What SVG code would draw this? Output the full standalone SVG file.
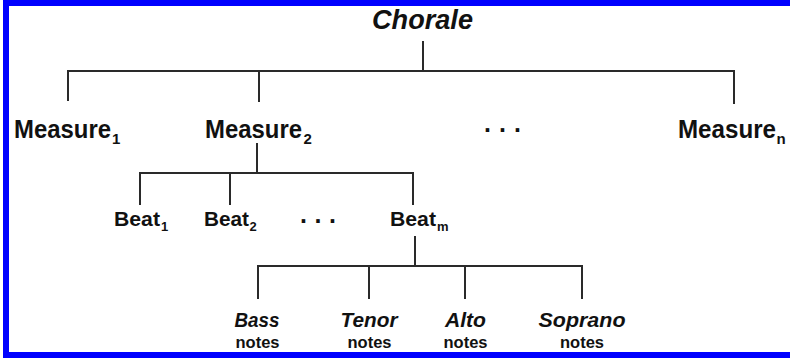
<svg xmlns="http://www.w3.org/2000/svg" width="790" height="358" viewBox="0 0 790 358">
<style>
.bg{fill:#ffffff}
.frame{fill:none;stroke:#0000ff;stroke-width:6}
.ln{stroke:#2a2a2a;stroke-width:2;fill:none;stroke-linecap:square}
.t{font-family:"Liberation Sans",Arial,sans-serif;font-weight:bold;fill:#111}
.it{font-style:italic}
.m{font-size:25px}
.b{font-size:20px}
.v{font-size:19.5px}
.n{font-size:17px}
.s1{font-size:15px}
.s2{font-size:13px}
</style>
<rect class="bg" x="0" y="0" width="790" height="358"/>
<rect class="frame" x="6" y="3" width="820" height="352"/>
<g id="connectors">
<path class="ln" d="M423,42 V71 M68,71 H734 M68,71 V100 M259,71 V101 M734,71 V103"/>
<path class="ln" d="M257,144 V173 M140,173 H413 M140,173 V204 M230,173 V204 M413,173 V204"/>
<path class="ln" d="M415,237 V266 M258,266 H582 M258,266 V298 M369,266 V298 M465,266 V298 M582,266 V298"/>
</g>
<g id="chorale"><text class="t it" x="372" y="29" font-size="27" textLength="101" lengthAdjust="spacingAndGlyphs">Chorale</text></g>
<g id="measure1"><text class="t"><tspan class="m" x="14" y="138" textLength="97" lengthAdjust="spacingAndGlyphs">Measure</tspan><tspan class="s1" x="112" y="144">1</tspan></text></g>
<g id="measure2"><text class="t"><tspan class="m" x="205" y="138" textLength="97" lengthAdjust="spacingAndGlyphs">Measure</tspan><tspan class="s1" x="303.5" y="144">2</tspan></text></g>
<g id="measure-dots"><text class="t m" x="484" y="132" letter-spacing="8">...</text></g>
<g id="measuren"><text class="t"><tspan class="m" x="678" y="138" textLength="98" lengthAdjust="spacingAndGlyphs">Measure</tspan><tspan class="s1" x="776.5" y="144">n</tspan></text></g>
<g id="beat1"><text class="t"><tspan class="b" x="114" y="226" textLength="46" lengthAdjust="spacingAndGlyphs">Beat</tspan><tspan class="s2" x="161" y="231">1</tspan></text></g>
<g id="beat2"><text class="t"><tspan class="b" x="204" y="226" textLength="45" lengthAdjust="spacingAndGlyphs">Beat</tspan><tspan class="s2" x="249.5" y="231">2</tspan></text></g>
<g id="beat-dots"><text class="t m" x="300" y="223" letter-spacing="7.5">...</text></g>
<g id="beatm"><text class="t"><tspan class="b" x="390" y="226" textLength="46" lengthAdjust="spacingAndGlyphs">Beat</tspan><tspan class="s2" x="437" y="231">m</tspan></text></g>
<g id="bass"><text class="t it v" x="257" y="327" text-anchor="middle" textLength="45" lengthAdjust="spacingAndGlyphs">Bass</text><text class="t n" x="257.5" y="348" text-anchor="middle" textLength="44" lengthAdjust="spacingAndGlyphs">notes</text></g>
<g id="tenor"><text class="t it v" x="369" y="327" text-anchor="middle" textLength="57" lengthAdjust="spacingAndGlyphs">Tenor</text><text class="t n" x="369.5" y="348" text-anchor="middle" textLength="44" lengthAdjust="spacingAndGlyphs">notes</text></g>
<g id="alto"><text class="t it v" x="465.5" y="327" text-anchor="middle" textLength="41" lengthAdjust="spacingAndGlyphs">Alto</text><text class="t n" x="465.5" y="348" text-anchor="middle" textLength="44" lengthAdjust="spacingAndGlyphs">notes</text></g>
<g id="soprano"><text class="t it v" x="582" y="327" text-anchor="middle" textLength="87" lengthAdjust="spacingAndGlyphs">Soprano</text><text class="t n" x="582" y="348" text-anchor="middle" textLength="44" lengthAdjust="spacingAndGlyphs">notes</text></g>
</svg>
